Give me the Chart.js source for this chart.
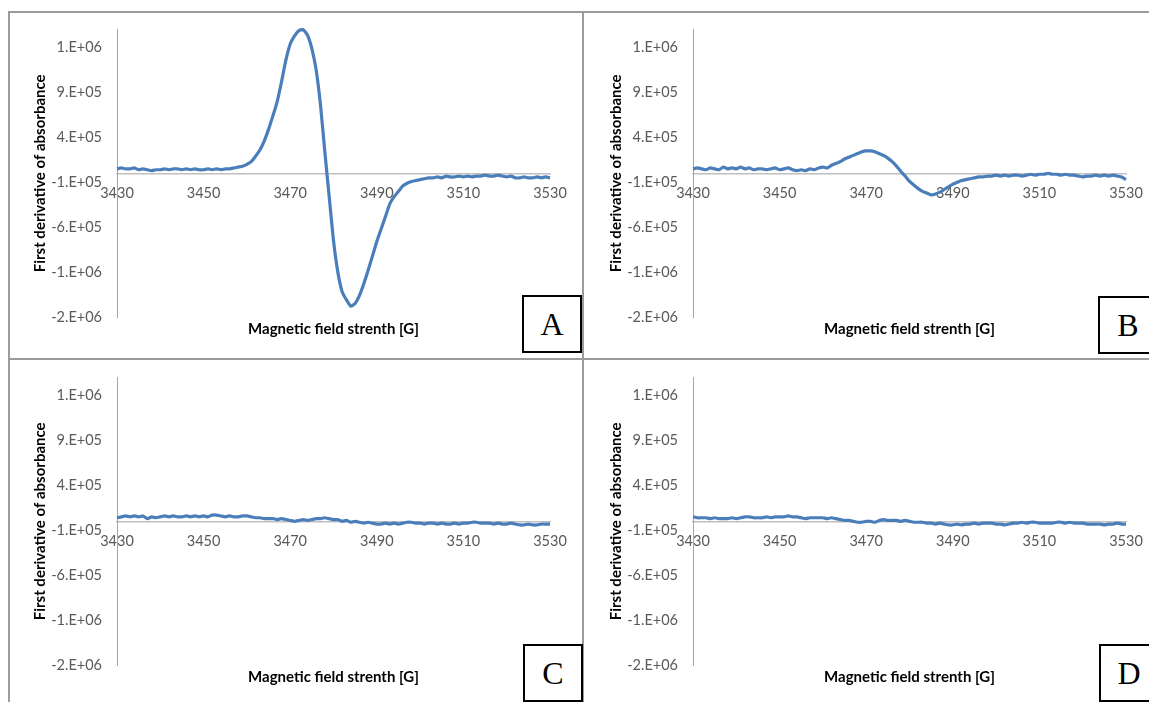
<!DOCTYPE html>
<html>
<head>
<meta charset="utf-8">
<script src="https://cdn.jsdelivr.net/npm/chart.js@4.4.1/dist/chart.umd.min.js"></script>
<style>
  html, body { margin: 0; padding: 0; background: #fff; width: 1149px; height: 702px; overflow: hidden; }
  .rule { position: absolute; background: #9b9b9b; }
  .panel { position: absolute; }
  .tag { position: absolute; box-sizing: border-box; border: 2px solid #000; background: #fff;
         font-family: "Liberation Serif", "DejaVu Serif", serif; font-size: 32px; line-height: 54px;
         text-align: center; color: #000; }
</style>
</head>
<body>
<div class="rule" style="left:8px;top:11px;width:1141px;height:2px"></div>
<div class="rule" style="left:8px;top:358px;width:1141px;height:2px"></div>
<div class="rule" style="left:8px;top:11px;width:2px;height:691px"></div>
<div class="rule" style="left:582px;top:11px;width:2px;height:691px"></div>

<canvas id="chartA" class="panel" width="572" height="343" style="left:10px;top:14px"></canvas>
<canvas id="chartB" class="panel" width="572" height="343" style="left:586px;top:14px"></canvas>
<canvas id="chartC" class="panel" width="572" height="343" style="left:10px;top:362px"></canvas>
<canvas id="chartD" class="panel" width="572" height="343" style="left:586px;top:362px"></canvas>

<div class="tag" style="left:522px;top:295px;width:60px;height:58px">A</div>
<div class="tag" style="left:1098px;top:296px;width:60px;height:58px">B</div>
<div class="tag" style="left:523px;top:644px;width:60px;height:58px">C</div>
<div class="tag" style="left:1099px;top:644px;width:60px;height:58px">D</div>

<script>
// magnetic field [G], one reading per gauss
const field = [
  3430, 3431, 3432, 3433, 3434, 3435, 3436, 3437, 3438, 3439,
  3440, 3441, 3442, 3443, 3444, 3445, 3446, 3447, 3448, 3449,
  3450, 3451, 3452, 3453, 3454, 3455, 3456, 3457, 3458, 3459,
  3460, 3461, 3462, 3463, 3464, 3465, 3466, 3467, 3468, 3469,
  3470, 3471, 3472, 3473, 3474, 3475, 3476, 3477, 3478, 3479,
  3480, 3481, 3482, 3483, 3484, 3485, 3486, 3487, 3488, 3489,
  3490, 3491, 3492, 3493, 3494, 3495, 3496, 3497, 3498, 3499,
  3500, 3501, 3502, 3503, 3504, 3505, 3506, 3507, 3508, 3509,
  3510, 3511, 3512, 3513, 3514, 3515, 3516, 3517, 3518, 3519,
  3520, 3521, 3522, 3523, 3524, 3525, 3526, 3527, 3528, 3529,
  3530
];

// first derivative of absorbance, in units of 1E+05
const signalA = [
  0.5, 0.6, 0.5, 0.5, 0.6, 0.4, 0.5, 0.4, 0.3, 0.4,
  0.4, 0.5, 0.4, 0.5, 0.5, 0.4, 0.5, 0.4, 0.5, 0.4,
  0.4, 0.5, 0.4, 0.5, 0.4, 0.5, 0.5, 0.6, 0.7, 0.8,
  1.0, 1.3, 1.9, 2.6, 3.6, 4.9, 6.4, 8.0, 10.2, 12.6,
  14.4, 15.3, 15.9, 16.0, 15.4, 13.9, 11.5, 7.6, 2.4, -2.6,
  -7.5, -11.0, -13.2, -14.1, -14.8, -14.5, -13.6, -12.3, -10.8, -9.2,
  -7.6, -6.2, -4.8, -3.4, -2.6, -2.0, -1.4, -1.1, -0.9, -0.8,
  -0.7, -0.6, -0.5, -0.5, -0.4, -0.5, -0.3, -0.4, -0.4, -0.3,
  -0.4, -0.3, -0.4, -0.3, -0.3, -0.2, -0.3, -0.3, -0.2, -0.3,
  -0.4, -0.3, -0.5, -0.5, -0.4, -0.5, -0.5, -0.4, -0.5, -0.4,
  -0.5
];
const signalB = [
  0.5, 0.6, 0.5, 0.4, 0.6, 0.5, 0.4, 0.7, 0.5, 0.6,
  0.5, 0.7, 0.5, 0.6, 0.4, 0.5, 0.5, 0.4, 0.5, 0.6,
  0.4, 0.5, 0.6, 0.4, 0.3, 0.4, 0.3, 0.5, 0.4, 0.6,
  0.7, 0.6, 0.9, 1.1, 1.3, 1.6, 1.8, 2.0, 2.2, 2.4,
  2.5, 2.5, 2.4, 2.2, 2.0, 1.7, 1.3, 0.8, 0.2, -0.3,
  -0.9, -1.3, -1.7, -2.0, -2.2, -2.4, -2.3, -2.1, -1.8, -1.5,
  -1.2, -1.0, -0.8, -0.7, -0.6, -0.5, -0.4, -0.4, -0.3, -0.3,
  -0.2, -0.3, -0.2, -0.3, -0.2, -0.2, -0.3, -0.2, -0.1, -0.2,
  -0.1, -0.1, 0.0, -0.1, -0.1, -0.2, -0.1, -0.2, -0.2, -0.3,
  -0.4, -0.3, -0.3, -0.2, -0.3, -0.2, -0.3, -0.2, -0.3, -0.4,
  -0.7
];
const signalC = [
  0.4, 0.5, 0.6, 0.5, 0.6, 0.5, 0.6, 0.3, 0.5, 0.4,
  0.5, 0.6, 0.5, 0.6, 0.5, 0.5, 0.6, 0.5, 0.6, 0.5,
  0.6, 0.5, 0.7, 0.7, 0.6, 0.5, 0.6, 0.5, 0.5, 0.6,
  0.6, 0.5, 0.4, 0.4, 0.3, 0.3, 0.3, 0.2, 0.3, 0.2,
  0.1, 0.0, 0.1, 0.2, 0.1, 0.2, 0.3, 0.3, 0.4, 0.3,
  0.2, 0.2, 0.0, 0.1, -0.1, 0.0, -0.1, -0.2, -0.1, -0.2,
  -0.3, -0.3, -0.2, -0.3, -0.2, -0.3, -0.2, -0.1, -0.1, -0.2,
  -0.2, -0.3, -0.2, -0.2, -0.3, -0.2, -0.3, -0.3, -0.2, -0.3,
  -0.2, -0.2, -0.1, -0.1, -0.2, -0.2, -0.2, -0.3, -0.2, -0.3,
  -0.3, -0.2, -0.3, -0.4, -0.4, -0.3, -0.4, -0.4, -0.3, -0.3,
  -0.3
];
const signalD = [
  0.5, 0.4, 0.4, 0.4, 0.3, 0.4, 0.3, 0.3, 0.3, 0.4,
  0.3, 0.4, 0.5, 0.5, 0.4, 0.4, 0.4, 0.5, 0.4, 0.5,
  0.5, 0.5, 0.6, 0.5, 0.5, 0.4, 0.3, 0.4, 0.4, 0.4,
  0.4, 0.3, 0.4, 0.3, 0.2, 0.1, 0.1, 0.0, -0.1, -0.1,
  0.0, 0.0, -0.1, 0.1, 0.2, 0.1, 0.1, 0.1, 0.0, 0.1,
  0.0, -0.1, -0.1, -0.1, -0.2, -0.2, -0.3, -0.2, -0.3, -0.4,
  -0.4, -0.3, -0.4, -0.3, -0.3, -0.2, -0.3, -0.2, -0.2, -0.2,
  -0.3, -0.3, -0.4, -0.3, -0.2, -0.2, -0.1, -0.2, -0.1, -0.1,
  -0.2, -0.2, -0.2, -0.2, -0.1, -0.1, -0.2, -0.1, -0.2, -0.2,
  -0.2, -0.3, -0.3, -0.3, -0.3, -0.4, -0.3, -0.3, -0.2, -0.3,
  -0.3
];
const UNIT = 1e5;

const xTicks = [3430, 3450, 3470, 3490, 3510, 3530];
const yTicks = [-1.6e6, -1.1e6, -6e5, -1e5, 4e5, 9e5, 1.4e6];
const yTickLabels = ['-2.E+06', '-1.E+06', '-6.E+05', '-1.E+05', '4.E+05', '9.E+05', '1.E+06'];

Chart.defaults.font.family = 'Lato, "Noto Sans", sans-serif';
Chart.defaults.animation = false;

function drawPanel(id, signal) {
  const pts = field.map((g, i) => ({ x: g, y: signal[i] * UNIT }));
  return new Chart(document.getElementById(id), {
    type: 'scatter',
    data: {
      datasets: [{
        data: pts,
        showLine: true,
        borderColor: '#4a7ebb',
        borderWidth: 3.2,
        pointRadius: 0,
        tension: 0.15,
        clip: false
      }]
    },
    options: {
      responsive: false,
      layout: { padding: { top: 12, right: 32, left: 0, bottom: 0 } },
      plugins: {
        legend: { display: false },
        tooltip: { enabled: false },
        title: {
          display: true,
          position: 'bottom',
          fullSize: false,
          text: 'Magnetic field strenth [G]',
          color: '#000',
          font: { size: 15, weight: 'bold' },
          padding: { top: 3, bottom: 19 }
        }
      },
      scales: {
        x: {
          type: 'linear',
          min: 3430, max: 3530,
          position: { y: 0 },
          afterBuildTicks: s => { s.ticks = xTicks.map(v => ({ value: v })); },
          grid: { display: false },
          border: { display: true, color: '#bfbfbf', width: 1.5 },
          ticks: { padding: 3, color: '#595959', font: { size: 14.5 }, maxRotation: 0, autoSkip: false,
                   callback: v => String(v) }
        },
        y: {
          type: 'linear',
          min: -1.6e6, max: 1.6e6,
          afterBuildTicks: s => { s.ticks = yTicks.map(v => ({ value: v })); },
          afterFit: s => { s.width = 107; },
          grid: { display: false },
          border: { display: true, color: '#a6a6a6', width: 1 },
          ticks: { padding: 7, color: '#595959', font: { size: 14.5 }, autoSkip: false,
                   callback: v => yTickLabels[yTicks.indexOf(v)] },
          title: {
            display: true,
            text: 'First derivative of absorbance',
            color: '#000',
            font: { size: 15, weight: 'bold' },
            padding: { top: 21, bottom: 0 }
          }
        }
      }
    }
  });
}

drawPanel('chartA', signalA);
drawPanel('chartB', signalB);
drawPanel('chartC', signalC);
drawPanel('chartD', signalD);
</script>
</body>
</html>
